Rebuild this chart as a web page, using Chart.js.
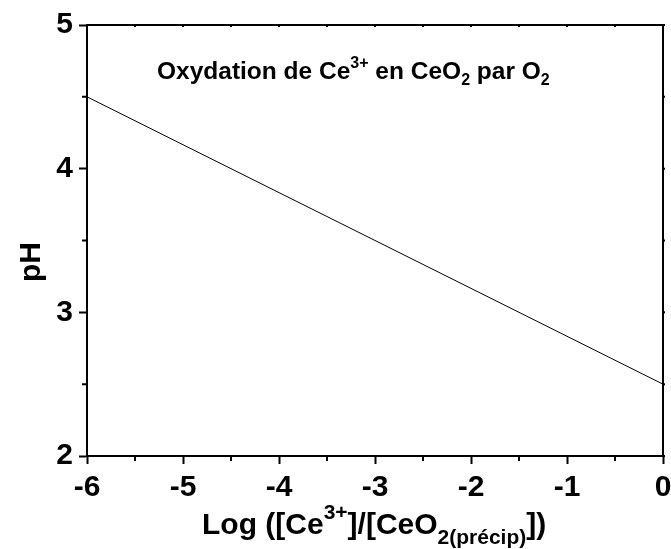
<!DOCTYPE html>
<html>
<head>
<meta charset="utf-8">
<script src="https://cdn.jsdelivr.net/npm/chart.js@4.4.1/dist/chart.umd.min.js"></script>
<style>
  html, body { margin: 0; padding: 0; background: #fff; }
  #wrap { width: 671px; height: 549px; }
</style>
</head>
<body>
<div id="wrap"><canvas id="phChart" width="671" height="549"></canvas></div>
<script>
// Data
const logRatio = [-6, 0];
const pHValues = [4.5, 2.5];
const xTicks = [-6, -5, -4, -3, -2, -1, 0];
const yTicks = [2, 3, 4, 5];
const xMinorTicks = [-5.5, -4.5, -3.5, -2.5, -1.5, -0.5];
const yMinorTicks = [2.5, 3.5, 4.5];

const FONT = '"Liberation Sans", Arial, Helvetica, sans-serif';

// Draw a run of text pieces with super/subscripts
function drawRich(ctx, parts, x, y) {
    let cx = x;
    parts.forEach(p => {
        ctx.font = `bold ${p.size}px ${FONT}`;
        ctx.fillText(p.t, cx, y + (p.dy || 0));
        cx += ctx.measureText(p.t).width;
    });
}

const framePlugin = {
    id: 'frame',
    afterDraw(chart) {
        const ctx = chart.ctx;
        const area = chart.chartArea;
        const xs = chart.scales.x;
        const ys = chart.scales.y;
        ctx.save();
        ctx.strokeStyle = '#000';
        ctx.lineWidth = 2;
        // top and right frame
        ctx.beginPath();
        ctx.moveTo(area.left, area.top);
        ctx.lineTo(area.right, area.top);
        ctx.lineTo(area.right, area.bottom);
        ctx.stroke();

        // minor ticks outward on bottom/left
        ctx.beginPath();
        xMinorTicks.forEach(v => {
            const px = xs.getPixelForValue(v);
            ctx.moveTo(px, area.bottom);
            ctx.lineTo(px, area.bottom + 5);
        });
        yMinorTicks.forEach(v => {
            const py = ys.getPixelForValue(v);
            ctx.moveTo(area.left, py);
            ctx.lineTo(area.left - 5, py);
        });
        // tiny mirrored ticks on top/right
        xTicks.concat(xMinorTicks).forEach(v => {
            const px = xs.getPixelForValue(v);
            ctx.moveTo(px, area.top);
            ctx.lineTo(px, area.top + 2);
        });
        yTicks.concat(yMinorTicks).forEach(v => {
            const py = ys.getPixelForValue(v);
            ctx.moveTo(area.right, py);
            ctx.lineTo(area.right + 2, py);
        });
        ctx.stroke();

        ctx.fillStyle = '#000';
        ctx.textBaseline = 'alphabetic';
        ctx.textAlign = 'left';

        // title inside the plot
        drawRich(ctx, [
            { t: 'Oxydation de Ce', size: 24.5 },
            { t: '3+', size: 16, dy: -11 },
            { t: ' en CeO', size: 24.5 },
            { t: '2', size: 16, dy: 6 },
            { t: ' par O', size: 24.5 },
            { t: '2', size: 16, dy: 6 }
        ], 157, 79);

        // x axis title
        drawRich(ctx, [
            { t: 'Log ([Ce', size: 30 },
            { t: '3+', size: 21, dy: -15 },
            { t: ']/[CeO', size: 30 },
            { t: '2(précip)', size: 21, dy: 10 },
            { t: '])', size: 30 }
        ], 202, 534);

        // y axis title
        ctx.translate(40, 262);
        ctx.rotate(-Math.PI / 2);
        ctx.textAlign = 'center';
        ctx.font = `bold 30px ${FONT}`;
        ctx.fillText('pH', 0, 0);
        ctx.restore();
    }
};

new Chart(document.getElementById('phChart'), {
    type: 'scatter',
    data: {
        datasets: [{
            data: logRatio.map((x, i) => ({ x: x, y: pHValues[i] })),
            showLine: true,
            borderColor: '#000',
            borderWidth: 1,
            pointRadius: 0,
            fill: false
        }]
    },
    options: {
        responsive: false,
        animation: false,
        layout: { padding: { top: 25, right: 8, left: 0, bottom: 0 } },
        plugins: {
            legend: { display: false },
            tooltip: { enabled: false }
        },
        scales: {
            x: {
                type: 'linear',
                min: -6,
                max: 0,
                afterBuildTicks: s => { s.ticks = xTicks.map(v => ({ value: v })); },
                afterFit: s => { s.height = 93; s.paddingLeft = 0; s.paddingRight = 0; },
                border: { color: '#000', width: 2 },
                grid: { drawOnChartArea: false, tickLength: 8, tickWidth: 2, tickColor: '#000' },
                ticks: {
                    color: '#000',
                    padding: 6,
                    maxRotation: 0,
                    font: { family: FONT, size: 30, weight: 'bold' }
                }
            },
            y: {
                type: 'linear',
                min: 2,
                max: 5,
                afterBuildTicks: s => { s.ticks = yTicks.map(v => ({ value: v })); },
                afterFit: s => { s.width = 87; s.paddingTop = 0; s.paddingBottom = 0; },
                border: { color: '#000', width: 2 },
                grid: { drawOnChartArea: false, tickLength: 8, tickWidth: 2, tickColor: '#000' },
                ticks: {
                    color: '#000',
                    padding: 6,
                    font: { family: FONT, size: 30, weight: 'bold' }
                }
            }
        }
    },
    plugins: [framePlugin]
});
</script>
</body>
</html>
